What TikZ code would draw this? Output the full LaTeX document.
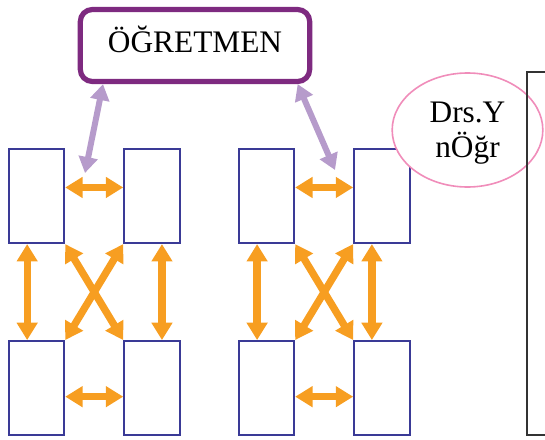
\documentclass[tikz,border=0pt]{standalone}
\usepackage{fontspec}
\setmainfont{Liberation Serif}
\usetikzlibrary{arrows.meta, shapes.geometric, positioning}
\definecolor{boxBlue}{HTML}{3A3A96}
\definecolor{linkOrange}{HTML}{F79E21}
\definecolor{teachPurple}{HTML}{7E2A80}
\definecolor{linkLilac}{HTML}{B69BCB}
\definecolor{ovalPink}{HTML}{F08DBA}
\definecolor{frameGray}{HTML}{333333}
\tikzstyle{sBox} = [rectangle, draw=boxBlue, line width=1.6pt, minimum width=41.5pt, minimum height=70.5pt, inner sep=0pt]
\tikzstyle{sTeacher} = [rectangle, rounded corners=9pt, draw=teachPurple, line width=3.9pt, minimum width=172pt, minimum height=54pt, font=\fontsize{23.5}{26}\selectfont, text height=16pt, text depth=4.8pt]
\tikzstyle{sOval} = [ellipse, draw=ovalPink, fill=white, line width=1.2pt, minimum width=113pt, minimum height=85.5pt, inner sep=0pt, align=center, font=\fontsize{23.5}{26}\selectfont, text depth=0pt]
\tikzstyle{oArrow} = [line width=5.5pt, draw=linkOrange, {Triangle[length=13pt,width=15pt]}-{Triangle[length=13pt,width=15pt]}]
\tikzstyle{pArrow} = [line width=4.5pt, draw=linkLilac, {Triangle[length=12pt,width=14pt]}-{Triangle[length=12pt,width=14pt]}]

\begin{document}
\begin{tikzpicture}[x=0.75pt, y=-0.75pt]
    \useasboundingbox (0,0) rectangle (545,439);

    % two groups of four seats
    \node (b1) [sBox] at (36.5,196) {};
    \node (b2) [sBox, right=43.5pt of b1] {};
    \node (b3) [sBox, below=72pt of b1] {};
    \node (b4) [sBox, below=72pt of b2] {};
    \node (b5) [sBox, right=42.75pt of b2] {};
    \node (b6) [sBox, right=43.5pt of b5] {};
    \node (b7) [sBox, below=72pt of b5] {};
    \node (b8) [sBox, below=72pt of b6] {};

    \node (teacher) [sTeacher] at (195,45.5) {ÖĞRETMEN};
    \coordinate (p1) at (85,173);
    \coordinate (p2) at (335,170);

    % links inside the first group
    \draw [oArrow] ([yshift=6.4pt]b1.east) -- ([yshift=6.4pt]b2.west);
    \draw [oArrow] ([yshift=-6.4pt]b3.east) -- ([yshift=-6.4pt]b4.west);
    \draw [oArrow] ([xshift=-7pt]b1.south) -- ([xshift=-7pt]b3.north);
    \draw [oArrow] ([xshift=7.5pt]b2.south) -- ([xshift=7.5pt]b4.north);
    \draw [oArrow] (b1.south east) -- (b4.north west);
    \draw [oArrow] (b2.south west) -- (b3.north east);

    % links inside the second group
    \draw [oArrow] ([yshift=6.4pt]b5.east) -- ([yshift=6.4pt]b6.west);
    \draw [oArrow] ([yshift=-6.4pt]b7.east) -- ([yshift=-6.4pt]b8.west);
    \draw [oArrow] ([xshift=-7pt]b5.south) -- ([xshift=-7pt]b7.north);
    \draw [oArrow] ([xshift=-7.5pt]b6.south) -- ([xshift=-7.5pt]b8.north);
    \draw [oArrow] (b5.south east) -- (b8.north west);
    \draw [oArrow] (b6.south west) -- (b7.north east);

    \draw [pArrow] ([xshift=-69pt]teacher.south) -- (p1);
    \draw [pArrow] ([xshift=77pt]teacher.south) -- (p2);

    \node (oval) [sOval] at (467.5,130) {Drs.Y\\nÖğr};

    \draw [frameGray, line width=1.8pt] (545,72) -- (527,72) -- (527,435) -- (545,435);
\end{tikzpicture}
\end{document}
